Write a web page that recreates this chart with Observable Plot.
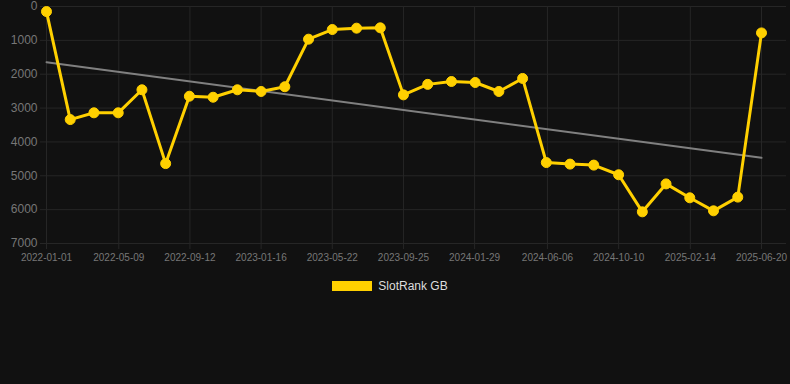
<!DOCTYPE html>
<html>
<head>
<meta charset="utf-8">
<script src="https://cdn.jsdelivr.net/npm/d3@7"></script>
<script src="https://cdn.jsdelivr.net/npm/@observablehq/plot@0.6"></script>
<style>
  html, body { margin: 0; padding: 0; background: #111111; }
  #chart svg { display: block; }
  #legend { display: flex; justify-content: center; align-items: center; padding-top: 9px; padding-right: 10px; font-family: "Liberation Sans", Arial, sans-serif; font-size: 12px; color: #dddddd; }
  #legend .sw { width: 40px; height: 10px; background: #FFD000; margin-right: 6px; }
</style>
</head>
<body>
<div id="chart"></div>
<div id="legend"><span class="sw"></span><span>SlotRank GB</span></div>
<script>
const dates = [
  "2022-01-01","2022-02-12","2022-03-26","2022-05-08","2022-06-19","2022-07-31",
  "2022-09-11","2022-10-23","2022-12-05","2023-01-16","2023-02-27","2023-04-10",
  "2023-05-22","2023-07-04","2023-08-15","2023-09-25","2023-11-07","2023-12-19",
  "2024-01-30","2024-03-12","2024-04-23","2024-06-04","2024-07-16","2024-08-27",
  "2024-10-10","2024-11-21","2025-01-02","2025-02-13","2025-03-27","2025-05-09",
  "2025-06-20"
];
const ranks = [
  150, 3340, 3140, 3140, 2460, 4640,
  2650, 2680, 2460, 2510, 2370, 965,
  680, 640, 630, 2610, 2300, 2215,
  2245, 2510, 2125, 4610, 4655, 4685,
  4970, 6065, 5240, 5650, 6035, 5630,
  780
];
const xTickLabels = ["2022-01-01","2022-05-09","2022-09-12","2023-01-16","2023-05-22","2023-09-25","2024-01-29","2024-06-06","2024-10-10","2025-02-14","2025-06-20"];
const yTicks = [0, 1000, 2000, 3000, 4000, 5000, 6000, 7000];
const seriesName = "SlotRank GB";

const parse = d3.utcParse("%Y-%m-%d");
const data = dates.map((d, i) => ({date: parse(d), rank: ranks[i]}));
const xTicks = xTickLabels.map(parse);

const chart = Plot.plot({
  width: 790,
  height: 270,
  marginLeft: 46,
  marginRight: 29,
  marginTop: 6,
  marginBottom: 27,
  style: {background: "#111111", color: "#777777", fontFamily: "'Liberation Sans', Arial, sans-serif"},
  x: {type: "utc", domain: [parse("2022-01-01"), parse("2025-06-20")]},
  y: {domain: [0, 7000], reverse: true},
  marks: [
    Plot.ruleY(yTicks, {y: d => d, x1: parse("2022-01-01"), x2: parse("2025-06-20"), stroke: "#262626", strokeWidth: 1, insetLeft: -6, insetRight: -25}),
    Plot.ruleX(xTicks, {x: d => d, y1: 0, y2: 7000, stroke: "#262626", strokeWidth: 1, insetBottom: -6}),
    Plot.axisY(yTicks, {tickSize: 0, tickPadding: 9, tickFormat: d => String(d), fontSize: 12, fill: "#777777", label: null}),
    Plot.axisX(xTicks, {tickSize: 0, tickPadding: 10, tickFormat: d3.utcFormat("%Y-%m-%d"), fontSize: 10, fill: "#777777", label: null}),
    Plot.linearRegressionY(data, {x: "date", y: "rank", ci: 0, stroke: "#808080", strokeWidth: 2}),
    Plot.line(data, {x: "date", y: "rank", stroke: "#FFD000", strokeWidth: 3}),
    Plot.dot(data, {x: "date", y: "rank", r: 5, fill: "#FFD000", stroke: "#FFD000", strokeWidth: 1})
  ]
});
document.getElementById("chart").appendChild(chart);
document.querySelector("#legend span:last-child").textContent = seriesName;
</script>
</body>
</html>
